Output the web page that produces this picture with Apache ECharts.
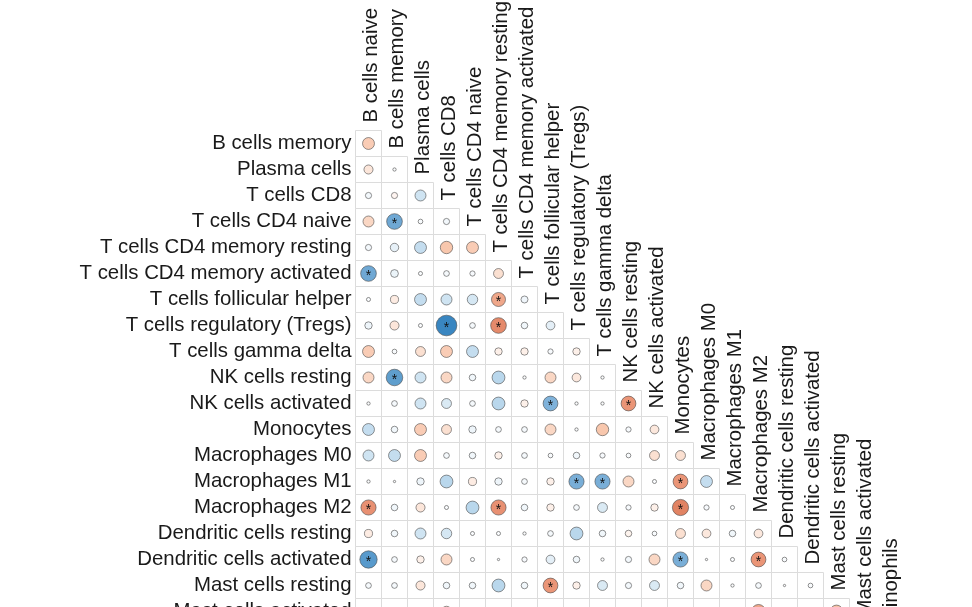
<!DOCTYPE html>
<html><head><meta charset="utf-8">
<script src="https://cdn.jsdelivr.net/npm/echarts@6/dist/echarts.min.js"></script>
<style>html,body{margin:0;padding:0;background:#fff}#chart{width:972px;height:607px}</style>
</head><body><div id="chart"></div>
<script>
// Variables (row/column order of the correlation matrix)
const variables = [
  'B cells naive', 'B cells memory', 'Plasma cells', 'T cells CD8', 'T cells CD4 naive',
  'T cells CD4 memory resting', 'T cells CD4 memory activated', 'T cells follicular helper',
  'T cells regulatory (Tregs)', 'T cells gamma delta', 'NK cells resting', 'NK cells activated',
  'Monocytes', 'Macrophages M0', 'Macrophages M1', 'Macrophages M2', 'Dendritic cells resting',
  'Dendritic cells activated', 'Mast cells resting', 'Mast cells activated', 'Eosinophils', 'Neutrophils'
];

// Lower-triangle correlations, one array per row variable (columns 0..row-1)
const rBcellsMemory   = [-0.26];
const rPlasma         = [-0.15, 0.02];
const rCD8            = [0.07, -0.07, 0.22];
const rCD4naive       = [-0.22, 0.45, 0.04, 0.07];
const rCD4memRest     = [0.07, 0.13, 0.26, -0.28, -0.26];
const rCD4memAct      = [0.45, 0.11, 0.03, 0.06, 0.05, -0.18];
const rTfh            = [0.03, -0.12, 0.26, 0.22, 0.2, -0.36, 0.09];
const rTregs          = [0.1, -0.15, 0.03, 0.78, 0.06, -0.45, 0.08, 0.14];
const rGammaDelta     = [-0.26, 0.04, -0.18, -0.26, 0.26, -0.1, -0.1, 0.05, -0.1];
const rNKresting      = [-0.22, 0.5, 0.22, -0.22, 0.08, 0.3, 0.02, -0.22, -0.14, 0.02];
const rNKactivated    = [0.02, 0.06, 0.22, 0.18, 0.06, 0.3, -0.1, 0.4, 0.02, 0.02, -0.4];
const rMonocytes      = [0.26, 0.08, -0.26, -0.18, 0.1, 0.06, 0.06, -0.22, 0.02, -0.28, 0.05, -0.14];
const rMacM0          = [0.22, 0.26, -0.26, 0.06, 0.08, -0.1, 0.06, 0.04, 0.08, 0.05, 0.04, -0.18, -0.18];
const rMacM1          = [0.02, 0.01, 0.1, 0.3, -0.12, 0.1, 0.06, -0.1, 0.42, 0.42, -0.22, 0.03, -0.4, 0.26];
const rMacM2          = [-0.42, 0.08, -0.15, 0.03, 0.3, -0.42, 0.08, -0.1, 0.06, 0.18, 0.05, -0.1, -0.48, 0.05, 0.03];
const rDCresting      = [-0.12, 0.08, 0.22, 0.2, 0.03, 0.03, 0.02, 0.06, 0.3, 0.08, -0.08, 0.04, -0.18, -0.14, 0.08, -0.14];
const rDCactivated    = [0.55, 0.06, -0.1, -0.22, 0.03, 0.01, 0.05, 0.14, 0.08, 0.02, 0.07, -0.22, 0.42, 0.01, 0.03, -0.4, 0.04];
const rMastResting    = [0.06, 0.06, -0.15, 0.08, 0.08, 0.3, 0.08, -0.4, -0.1, 0.18, 0.07, 0.18, 0.08, -0.22, 0.02, 0.06, 0.01, 0.04];
const rMastActivated  = [0.05, 0.06, 0.06, -0.2, 0.03, 0.03, 0.06, 0.03, 0.03, 0.03, 0.06, 0.08, 0.03, 0.03, 0.03, -0.36, 0.03, 0.06, -0.3];

const lowerRows = [null, rBcellsMemory, rPlasma, rCD8, rCD4naive, rCD4memRest, rCD4memAct, rTfh, rTregs,
  rGammaDelta, rNKresting, rNKactivated, rMonocytes, rMacM0, rMacM1, rMacM2, rDCresting, rDCactivated,
  rMastResting, rMastActivated];

// Significant cells: [row variable index, column variable index]
const significant = [[4,1],[6,0],[7,5],[8,3],[8,5],[10,1],[11,7],[11,10],[14,8],[14,9],[14,12],
  [15,0],[15,5],[15,12],[17,0],[17,12],[17,15],[18,7],[19,15]];

// Diverging palette, evenly spaced from -1 to +1 (step 0.1)
const palette = ['#67001F','#8C0D25','#B2182B','#C94A3E','#D6604D','#DF7E5E','#EA9577','#F7C2A6','#FBDCCB','#FDF0E9',
  '#FFFFFF','#EEF5FA','#D5E7F3','#B9D7EC','#7FB2DA','#5F9ECD','#5196CA','#438DC5','#3784C0','#2A6FAE','#1F5F9C'];

const circleData = [];
lowerRows.forEach((vals, i) => { if (vals) vals.forEach((v, j) => circleData.push([j, i, v])); });
const cellData = circleData.map(d => [d[0], d[1]]);
// column labels sit on the diagonal; the last variable has no column
const diagData = variables.slice(0, variables.length - 1).map((name, k) => ({ name: name, value: [k, k] }));
const starData = significant.map(p => [p[1], p[0]]);

const FONT = 'Liberation Sans, Arial, sans-serif';
const TXT = '#1a1a1a';
const FS = 20.4;
const chart = echarts.init(document.getElementById('chart'), null, { renderer: 'canvas' });
chart.setOption({
  animation: false,
  backgroundColor: '#ffffff',
  grid: { left: 355.5, top: 104.5, width: 572, height: 572, containLabel: false, outerBoundsMode: 'none' },
  xAxis: { type: 'category', data: variables, show: false },
  yAxis: {
    type: 'category', data: variables, inverse: true,
    axisLine: { show: false }, axisTick: { show: false }, splitLine: { show: false },
    axisLabel: { interval: 0, margin: 4, fontSize: FS, color: TXT, fontFamily: FONT,
      formatter: (v, idx) => idx === 0 ? '' : v }
  },
  visualMap: { show: false, type: 'continuous', dimension: 2, min: -1, max: 1, seriesIndex: 1,
    inRange: { color: palette } },
  series: [
    { type: 'scatter', data: cellData, symbol: 'rect', symbolSize: 26, silent: true, z: 1,
      itemStyle: { color: 'rgba(0,0,0,0)', borderColor: '#dcdcdc', borderWidth: 1, opacity: 1 } },
    { type: 'scatter', data: circleData, symbol: 'circle', z: 2, silent: true,
      symbolSize: v => 23.4 * Math.sqrt(Math.abs(v[2])),
      itemStyle: { borderColor: 'rgba(70,70,70,0.65)', borderWidth: 0.9, opacity: 1 } },
    { type: 'scatter', data: starData, symbolSize: 2, z: 3, silent: true,
      itemStyle: { color: 'rgba(0,0,0,0)', opacity: 1 },
      label: { show: true, formatter: '*', position: 'inside', offset: [0, 3], fontSize: 14,
        color: '#111', fontFamily: FONT } },
    { type: 'scatter', data: diagData, symbolSize: 26, z: 3, silent: true,
      itemStyle: { color: 'rgba(0,0,0,0)', opacity: 1 },
      label: { show: true, formatter: p => p.name, rotate: 90, position: [16, 18],
        align: 'left', verticalAlign: 'middle', fontSize: FS, color: TXT, fontFamily: FONT } }
  ]
});
</script>
</body></html>
